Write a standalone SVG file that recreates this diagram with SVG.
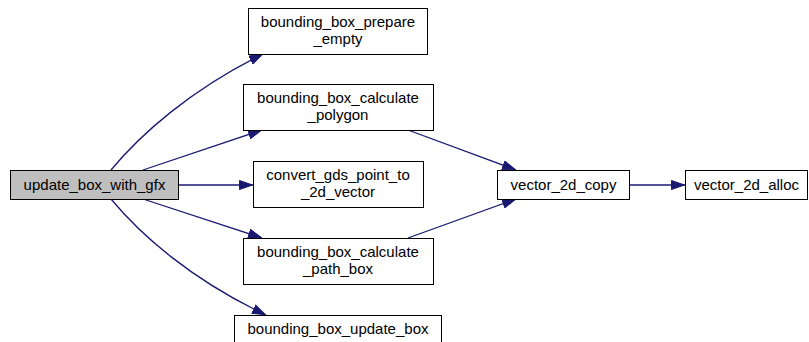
<svg xmlns="http://www.w3.org/2000/svg" width="809" height="342" viewBox="0 0 809 342">
<defs>
<style>
.node rect{fill:#ffffff;stroke:#000000;stroke-width:1}
.node.main rect{fill:#bfbfbf}
.node text{font-family:"Liberation Sans",Arial,Helvetica,sans-serif;font-size:15px;fill:#000000;text-anchor:middle}
.edges path{fill:none;stroke:#191970;stroke-width:1.3;marker-end:url(#arrow)}
</style>
<marker id="arrow" viewBox="0 0 14 10" refX="14" refY="5" markerWidth="14" markerHeight="10" markerUnits="userSpaceOnUse" orient="auto">
<path d="M0.5,0.5 L13.5,5 L0.5,9.5 z" fill="#191970" stroke="#191970"/>
</marker>
</defs>
<rect width="809" height="342" fill="#ffffff"/>
<g id="edges" class="edges">
<path d="M111,170 C140,135 190,90 263,54"/>
<path d="M143,170 L262,130"/>
<path d="M178,185 L253,185"/>
<path d="M143,199 L262,238"/>
<path d="M111,199 C140,234 190,279 266,315"/>
<path d="M408,130 L516,170"/>
<path d="M408,238 L516,199"/>
<path d="M629,185 L685,185"/>
</g>
<g id="update_box_with_gfx" class="node main">
<rect x="10.5" y="170.5" width="168" height="29"/>
<text x="94.5" y="190">update_box_with_gfx</text>
</g>
<g id="bounding_box_prepare_empty" class="node">
<rect x="248.5" y="8.5" width="179" height="46"/>
<text x="338" y="27">bounding_box_prepare</text>
<text x="338" y="44">_empty</text>
</g>
<g id="bounding_box_calculate_polygon" class="node">
<rect x="243.5" y="84.5" width="190" height="46"/>
<text x="338" y="103">bounding_box_calculate</text>
<text x="338" y="120">_polygon</text>
</g>
<g id="convert_gds_point_to_2d_vector" class="node">
<rect x="253.5" y="161.5" width="170" height="46"/>
<text x="338" y="180">convert_gds_point_to</text>
<text x="338" y="197">_2d_vector</text>
</g>
<g id="bounding_box_calculate_path_box" class="node">
<rect x="243.5" y="238.5" width="190" height="46"/>
<text x="338" y="257">bounding_box_calculate</text>
<text x="338" y="274">_path_box</text>
</g>
<g id="bounding_box_update_box" class="node">
<rect x="234.5" y="315.5" width="207" height="29"/>
<text x="338" y="334">bounding_box_update_box</text>
</g>
<g id="vector_2d_copy" class="node">
<rect x="497.5" y="170.5" width="132" height="29"/>
<text x="563.5" y="190">vector_2d_copy</text>
</g>
<g id="vector_2d_alloc" class="node">
<rect x="685.5" y="170.5" width="122" height="29"/>
<text x="746.5" y="190">vector_2d_alloc</text>
</g>
</svg>
